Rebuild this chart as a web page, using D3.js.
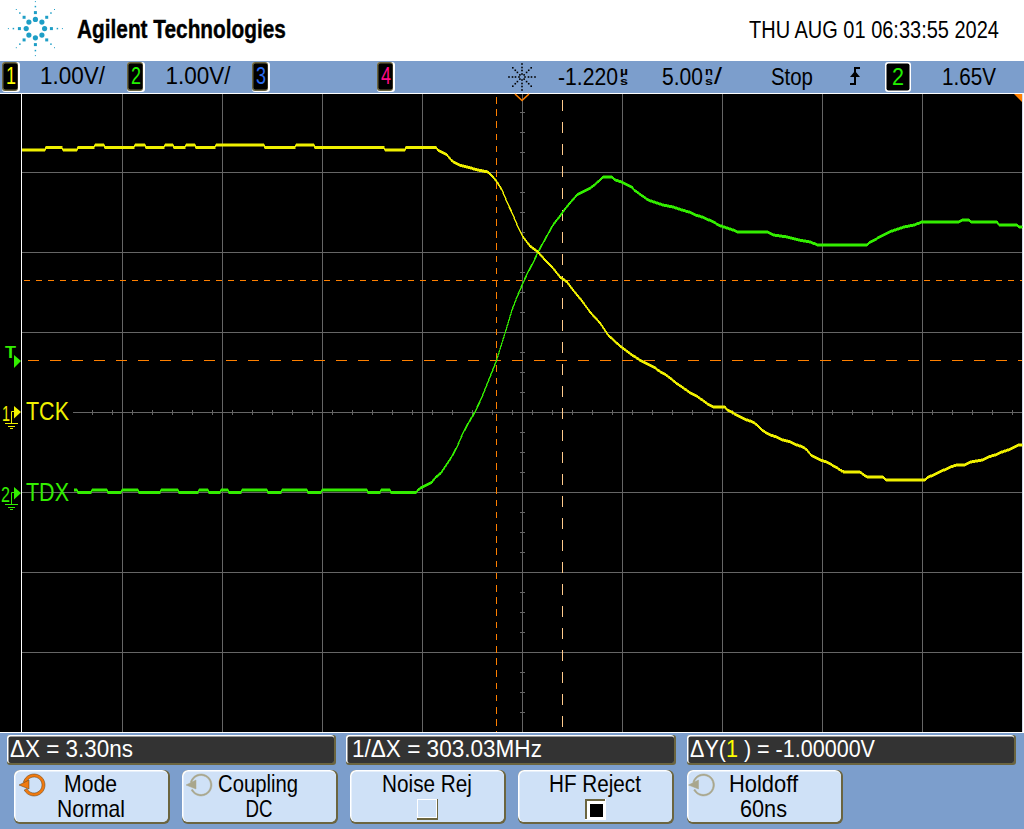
<!DOCTYPE html>
<html><head><meta charset="utf-8">
<script src="https://cdn.jsdelivr.net/npm/d3@7/dist/d3.min.js"></script>
<style>html,body{margin:0;padding:0;background:#fff;overflow:hidden}svg{display:block}
text{font-family:"Liberation Sans",Arial,sans-serif}</style>
</head><body><svg id="c" width="1024" height="829"></svg>
<script>
const tckTime=[-25,-23.85,-23.8,-23,-22.95,-22.25,-22.2,-21.4,-21.35,-20.9,-20.85,-19.4,-19.35,-18.85,-18.8,-17.9,-17.85,-17.45,-17.4,-16.85,-16.8,-16.35,-16.3,-15.35,-15.3,-12.9,-12.85,-11.35,-11.3,-10.4,-10.35,-6.9,-6.85,-5.85,-5.8,-4.3,-4.2,-3.75,-3.5,-3.15,-2.75,-2.2,-1.7,-1.45,-1.25,-1,-0.75,-0.45,-0.2,0.05,0.4,0.8,1.15,1.5,1.9,2.25,2.55,3,3.4,3.9,4.3,4.9,5.5,6.05,6.35,6.6,6.85,7.2,7.4,7.7,8,8.35,8.8,9.15,9.35,9.55,10.15,10.25,10.5,10.7,10.95,11.25,11.55,11.75,12,12.15,12.4,12.75,13.05,13.45,13.75,14.05,14.25,14.45,14.65,14.9,15.25,15.5,15.7,15.9,16.1,16.9,17.1,17.3,18.05,18.2,20.15,20.3,20.6,20.85,21.1,21.4,21.75,22.15,22.4,23.05,23.3,23.65,24,24.3,24.6,24.85,25];
const tckVolts=[3.275,3.275,3.306,3.306,3.275,3.275,3.306,3.306,3.338,3.338,3.306,3.306,3.338,3.338,3.306,3.306,3.338,3.338,3.306,3.306,3.338,3.338,3.306,3.306,3.338,3.338,3.306,3.306,3.338,3.338,3.306,3.306,3.275,3.275,3.306,3.306,3.275,3.213,3.138,3.088,3.063,3.025,3,2.938,2.875,2.775,2.625,2.463,2.313,2.188,2.075,2,1.9,1.813,1.688,1.625,1.525,1.388,1.25,1.113,0.963,0.825,0.713,0.625,0.588,0.563,0.513,0.463,0.425,0.363,0.313,0.25,0.188,0.125,0.088,0.063,0.063,0.025,0,-0.038,-0.063,-0.1,-0.125,-0.163,-0.225,-0.25,-0.288,-0.313,-0.35,-0.375,-0.413,-0.438,-0.475,-0.538,-0.563,-0.6,-0.625,-0.663,-0.688,-0.725,-0.75,-0.75,-0.788,-0.813,-0.813,-0.85,-0.85,-0.813,-0.788,-0.75,-0.725,-0.688,-0.663,-0.663,-0.625,-0.6,-0.563,-0.538,-0.5,-0.475,-0.438,-0.413,-0.413];
const tdxTime=[-22.4,-22.25,-22.2,-21.55,-21.5,-20.75,-20.7,-20.05,-20,-19.2,-19.15,-18.1,-18.05,-17.2,-17.15,-16.2,-16.15,-15.7,-15.65,-15.1,-15.05,-14.7,-14.65,-14.05,-14,-12.75,-12.7,-12.05,-12,-10.75,-10.7,-10.05,-10,-7.75,-7.7,-7.1,-7.05,-6.6,-6.55,-5.3,-5.2,-5,-4.75,-4.5,-4.3,-4.05,-3.85,-3.55,-3.25,-2.95,-2.65,-2.35,-2,-1.7,-1.3,-0.8,-0.5,-0.25,0.05,0.3,0.55,0.8,1.05,1.3,1.55,1.9,2.15,2.4,2.75,3.15,3.5,3.9,4.05,4.5,4.65,5,5.25,5.5,5.6,5.75,5.95,6.1,6.3,6.6,7.05,7.55,8,8.35,8.65,9,9.35,9.6,9.8,10.1,10.55,10.8,12.3,12.55,13.25,13.85,14.4,14.8,17.25,17.4,17.65,17.85,18.1,18.35,18.65,19.1,19.6,20,21.8,22.05,22.35,22.45,23.75,23.85,24.75,24.85,25];
const tdxVolts=[0.025,0.025,-0.006,-0.006,0.025,0.025,-0.006,-0.006,0.025,0.025,-0.006,-0.006,0.025,0.025,-0.006,-0.006,0.025,0.025,-0.006,-0.006,0.025,0.025,-0.006,-0.006,0.025,0.025,-0.006,-0.006,0.025,0.025,-0.006,-0.006,0.025,0.025,-0.006,-0.006,0.025,0.025,-0.006,-0.006,0.025,0.063,0.088,0.125,0.188,0.238,0.313,0.425,0.563,0.738,0.875,1,1.188,1.375,1.625,2.025,2.275,2.438,2.613,2.75,2.863,3,3.113,3.225,3.338,3.45,3.538,3.613,3.713,3.763,3.813,3.9,3.938,3.938,3.9,3.875,3.838,3.813,3.775,3.75,3.713,3.688,3.65,3.625,3.588,3.563,3.525,3.5,3.463,3.438,3.4,3.375,3.338,3.313,3.275,3.25,3.25,3.213,3.188,3.15,3.125,3.088,3.088,3.125,3.15,3.188,3.213,3.25,3.275,3.313,3.338,3.375,3.375,3.4,3.4,3.375,3.375,3.338,3.338,3.313,3.313];
const gridTimes=[-20,-15,-10,-5,0,5,10,15,20];
const gridDivs=[-3,-2,-1,1,2,3];
const cursorTimes=[-1.3,2];
const softTop=["Mode","Coupling","Noise Rej","HF Reject","Holdoff"];
const softBottom=["Normal","DC","","","60ns"];
const channelScales=["1.00V/","1.00V/"];
const channelNames=["1","2","3","4"];
const measurements=["\u0394X = 3.30ns","1/\u0394X = 303.03MHz"];

const svg=d3.select("#c");
const W=1024,H=829;
const x=d3.scaleLinear().domain([-25,25]).range([22,1022]);
const yTck=d3.scaleLinear().domain([0,4]).range([412,92]);
const yTdx=d3.scaleLinear().domain([0,4]).range([492,172]);
const yDiv=d3.scaleLinear().domain([-4,4]).range([732,92]);
const YEL="#f0f000",GRN="#33ee00",ORG="#ff8000",GRID="#666",BLUE="#7c9ecc",OLIVE="#6b6540",KEY="#cfe1f7",LOGO="#1e9ec6";
function rect(x0,y0,w,h,f,rx){return svg.append("rect").attr("x",x0).attr("y",y0).attr("width",w).attr("height",h).attr("fill",f).attr("rx",rx||0);}
function fit(t,x0,base,width){const n=t.node().getComputedTextLength();t.attr("transform",`translate(${x0},${base}) scale(${width/n},1)`);return t;}
function txt(s,x0,base,size,col,width,weight){const t=svg.append("text").attr("font-size",size).attr("fill",col).attr("font-weight",weight||"normal").text(s);
 t.attr("transform",`translate(${x0},${base})`);
 if(width)fit(t,x0,base,width);return t;}
function line(x1,y1,x2,y2,c,w,dash){const l=svg.append("line").attr("x1",x1).attr("y1",y1).attr("x2",x2).attr("y2",y2).attr("stroke",c).attr("stroke-width",w||1).attr("shape-rendering","crispEdges");if(dash)l.attr("stroke-dasharray",dash);return l;}
function bevel(x0,y0,w,h,f,rx,a,b){rect(x0,y0,w,h,b||OLIVE,rx);rect(x0,y0,w-2,h-2,a||"#fff",rx);rect(x0+1.5,y0+1.5,w-3.5,h-3.5,f,Math.max(0,rx-1));}

// page
rect(0,0,W,H,"#fff");
rect(0,61,W,32,BLUE);
rect(0,733,W,96,BLUE);
rect(0,93,1024,640,"#fff");
rect(0,94,1023,638,"#000");
line(21.5,93,21.5,733,"#fff",1);
line(1022.5,94,1022.5,732,"#d8d8e8",1);

// grid through axes
const gx=svg.append("g").attr("transform","translate(0,94)").call(d3.axisBottom(x).tickValues(gridTimes).tickSize(638).tickFormat(""));
const gy=svg.append("g").attr("transform","translate(22,0)").call(d3.axisRight(yDiv).tickValues(gridDivs).tickSize(1000).tickFormat(""));
[gx,gy].forEach(g=>{g.select(".domain").remove();g.selectAll("line").attr("stroke",GRID).attr("shape-rendering","crispEdges");});
line(73,412.5,1022,412.5,GRID,1);
const xm=d3.range(-22.5,25,1).filter(t=>t%5!==0&&x(t)>73);
const minorX=svg.append("g").attr("transform","translate(0,410)").call(d3.axisBottom(x).tickValues(xm).tickSize(5).tickFormat(""));
const ym=d3.range(-3.75,4,0.25).filter(d=>d%1!==0);
const minorY=svg.append("g").attr("transform","translate(520,0)").call(d3.axisRight(yDiv).tickValues(ym).tickSize(5).tickFormat(""));
[minorX,minorY].forEach(g=>{g.select(".domain").remove();g.selectAll("line").attr("stroke",GRID).attr("shape-rendering","crispEdges");});

// cursors
line(x(cursorTimes[0])+0.5,97,x(cursorTimes[0])+0.5,732,ORG,1,"6.5 5.7");
line(x(cursorTimes[1])+0.5,100,x(cursorTimes[1])+0.5,732,"#ffcb8c",1,"11 11");
line(24,280.5,1022,280.5,ORG,1,"6 6");
line(28,360.5,1022,360.5,ORG,1,"11 11");

// traces: constant vertical thickness, thin on the steep parts
function band(tt,vv,y,c){const pts=tt.map((t,i)=>[t,vv[i]]);
 svg.append("path").datum(pts).attr("fill",c).attr("stroke",c).attr("stroke-width",0.5).attr("shape-rendering","crispEdges")
  .attr("d",d3.area().x(d=>x(d[0])).y0(d=>y(d[1])-1.25).y1(d=>y(d[1])+1.25));}
band(tdxTime,tdxVolts,yTdx,GRN);
band(tckTime,tckVolts,yTck,YEL);

// trigger marks
svg.append("path").attr("d","M515,94 L522,100.5 L529,94").attr("fill","none").attr("stroke",ORG).attr("stroke-width",1.6);
svg.append("path").attr("d","M1014,94 H1022 V102 Z").attr("fill",ORG);

// left labels
txt("T",5,358,17,GRN,11,"bold");
svg.append("path").attr("d","M14,355 L21,361 L14,368 Z").attr("fill",GRN);
function gnd(y0,c,label){
 txt(label,label==="1"?2:1,y0+9,22,c,label==="1"?8:9);
 svg.append("path").attr("d",`M14,${y0-6} L21,${y0} L14,${y0+6.5} Z`).attr("fill",c);
 svg.append("path").attr("d",`M14,${y0-0.5} H11.5 V${y0+11}`).attr("fill","none").attr("stroke",c).attr("stroke-width",1);
 line(5,y0+11.5,18,y0+11.5,c);line(8,y0+14.5,15,y0+14.5,c);line(10,y0+16.5,13,y0+16.5,c);
}
gnd(412,YEL,"1");gnd(493,GRN,"2");
txt("TCK",26,420,25,YEL,43);
txt("TDX",26,501,25,GRN,43);

// header
txt("Agilent Technologies",77,38,25,"#000",209,"bold").attr("stroke","#000").attr("stroke-width",0.4);
txt("THU AUG 01 06:33:55 2024",749,38,24,"#000",250);
const logo=svg.append("g").attr("transform","translate(35.4,28.6)");
d3.range(8).forEach(i=>{const a=i*Math.PI/4,cx=Math.cos(a),sy=Math.sin(a);
 logo.append("circle").attr("cx",cx*9.2).attr("cy",sy*9.2).attr("r",2.6).attr("fill",LOGO);
 const sq=(r,s)=>logo.append("rect").attr("x",cx*r-s/2).attr("y",sy*r-s/2).attr("width",s).attr("height",s).attr("fill",LOGO);
 sq(16,3);sq(22,1.5);sq(27,1);
});

// status bar
const tagX=[2,127,252,377],tagCol=[ "#ffff00","#22f000","#2a6cf0","#ff0a88"];
channelNames.forEach((n,i)=>{const a=tagX[i];
 rect(a,62,18,30,"#fff",3);rect(a,62,16,29,OLIVE,3);rect(a+1.5,63.5,14,26,"#000",2);
 txt(n,a+4,84,24,tagCol[i],10);
});
txt(channelScales[0],40,84,24,"#000",65);
txt(channelScales[1],165.5,84,24,"#000",65);
const st=svg.append("g").attr("transform","translate(522,77)");
d3.range(8).forEach(i=>{const a=i*Math.PI/4;[3,6.5,9.5,13].forEach(r=>st.append("rect").attr("x",Math.cos(a)*r-0.8).attr("y",Math.sin(a)*r-0.8).attr("width",1.6).attr("height",1.6).attr("fill","#000"));});
txt("-1.220",558,85,24,"#000",60);
txt("\u00b5",620,75,10,"#000",8,"bold");
txt("s",620,85,10,"#000",8,"bold");
txt("5.00",662,85,24,"#000",41);
txt("n",705,75,10,"#000",8,"bold");
txt("s",705,85,10,"#000",8,"bold");
txt("/",714,84,24,"#000",8);
txt("Stop",771,85,24,"#000",42);
svg.append("path").attr("d","M850,84 H855 V68 H860").attr("fill","none").attr("stroke","#000").attr("stroke-width",2);
svg.append("path").attr("d","M850,77 L855,71 L860,77 Z").attr("fill","#000");
rect(885,62,26,30,"#fff",3);rect(886.5,63.5,23,27,"#000",2);
txt("2",892,85,24,"#22f000",12);
txt("1.65V",942,85,24,"#000",54);

// measurement boxes
bevel(7,735,329,30,"#333",3);
bevel(346,735,330,30,"#333",3);
bevel(687,735,329,30,"#333",3);
txt(measurements[0],10,757,24,"#fff",123);
txt(measurements[1],352,757,24,"#fff",190);
const dy=txt("",690,757,24,"#fff");
dy.append("tspan").text("\u0394Y(");
dy.append("tspan").attr("fill","#ffff00").text("1");
dy.append("tspan").text(" ) = -1.00000V");
fit(dy,690,757,185);

// soft keys
const keyX=[14,182,350,518,687],topX=[64,218,382,549,729],topW=[53,80,90,92,69],botX=[57,245.5,0,0,740],botW=[68,27,0,0,47];
softTop.forEach((s,i)=>{bevel(keyX[i],770,156,54,KEY,6);
 txt(s,topX[i],792,24,"#000",topW[i]);
 if(softBottom[i])txt(softBottom[i],botX[i],817,23,"#000",botW[i]);
});
function knob(cx,c,stroke,inner){
 const arc=d3.arc().innerRadius(inner).outerRadius(11).startAngle(-Math.PI*0.42).endAngle(Math.PI*1.35);
 const g=svg.append("g").attr("transform",`translate(${cx},785)`);
 g.append("path").attr("d",arc()).attr("fill",c).attr("stroke",stroke).attr("stroke-width",0.5);
 g.append("path").attr("d","M-15,0 L-5,-5 L-5,4 Z").attr("fill",c).attr("stroke",stroke).attr("stroke-width",0.5);
}
knob(34,"#f07a10","#5a3a10",8);knob(201,"#a9a68c","#a9a68c",9.5);knob(703.5,"#a9a68c","#a9a68c",9.5);
rect(417,799,21,21,OLIVE);rect(417,799,20,19,"#fff");rect(418,800,18,17,KEY);
rect(585,799,21,21,"#fff");rect(585,799,20,20,OLIVE);rect(587,801,19,19,"#fff");rect(590,804,13,13,"#000");
</script></body></html>
